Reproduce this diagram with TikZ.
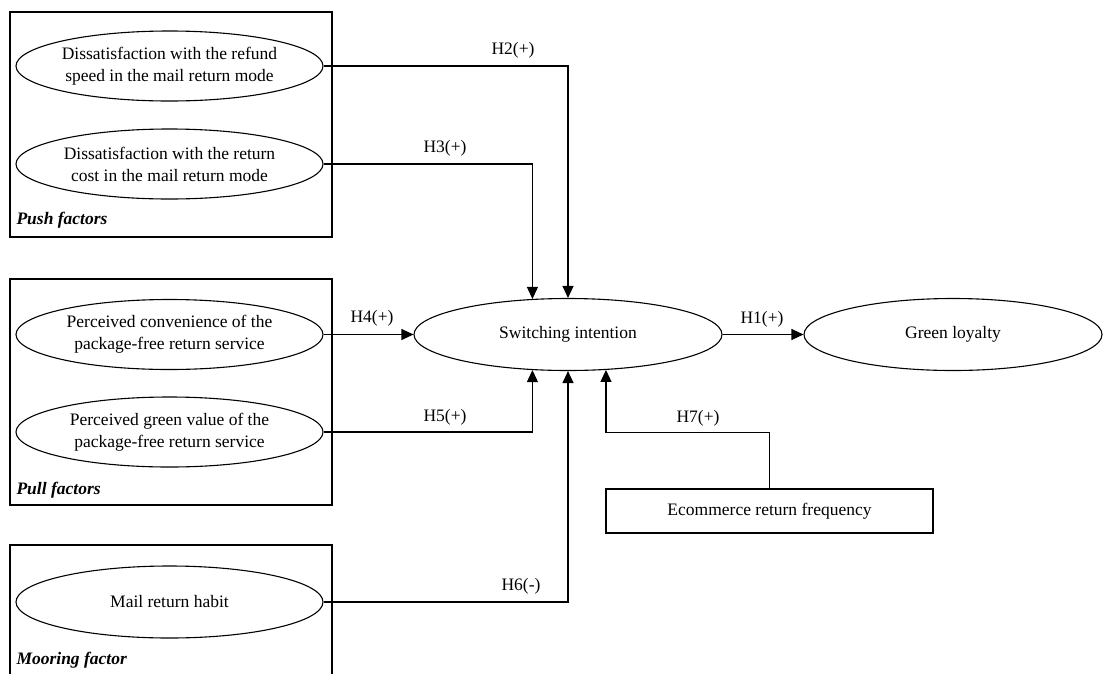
\documentclass[tikz,border=0pt]{standalone}
\usepackage{fontspec}
\setmainfont{Liberation Serif}
\usetikzlibrary{shapes.geometric,arrows.meta}

\begin{document}
\begin{tikzpicture}[x=1pt,y=-1pt,
  every node/.style={font=\fontsize{17.5}{22}\selectfont},
  oval/.style={draw, ellipse, line width=1.1pt, inner sep=0pt, align=center,
               minimum width=307pt, minimum height=70pt},
  bigoval/.style={oval, minimum height=72pt},
  groupbox/.style={draw, line width=1.1pt},
  grouplabel/.style={anchor=base west, font=\fontsize{17.5}{22}\selectfont\bfseries\itshape},
  link/.style={line width=1.1pt, -{Triangle[length=12pt,width=11pt]}},
  hyp/.style={inner sep=0pt}]
\useasboundingbox (0,0) rectangle (1103,673);

% group frames
\draw[groupbox] (10,12) rectangle (332,237);
\draw[groupbox] (10,279) rectangle (332,505);
\draw[groupbox] (10,690) -- (10,545) -- (332,545) -- (332,690);

\node[grouplabel] (lpush) at (13,224) {Push factors};
\node[grouplabel] (lpull) at (13,494) {Pull factors};
\node[grouplabel] (lmoor) at (13,664) {Mooring factor};

% constructs
\node[oval] (e1) at (169.5,66)  {Dissatisfaction with the refund\\speed in the mail return mode};
\node[oval] (e2) at (169.5,164) {Dissatisfaction with the return\\cost in the mail return mode};
\node[oval] (e3) at (169.5,334.5) {Perceived convenience of the\\package-free return service};
\node[oval] (e4) at (169.5,432) {Perceived green value of the\\package-free return service};
\node[bigoval] (e5) at (169.5,602) {Mail return habit};

\node[bigoval, minimum width=308pt] (si) at (568,334.5) {Switching intention};
\node[bigoval, minimum width=298pt] (gl) at (953,334.5) {Green loyalty};

\node[draw, line width=1.1pt, minimum width=327pt, minimum height=44pt, inner sep=0pt]
  (ef) at (769.5,511) {Ecommerce return frequency};

% hypothesised paths
\draw[link] (e1.east) -| (si.north);
\draw[link] (e2.east) -| (si.135);
\draw[link] (e3.east) -- (si.west);
\draw[link] (e4.east) -| (si.225);
\draw[link] (e5.east) -| (si.south);
\draw[link] (si.east) -- (gl.west);
\draw[link] (ef.north) -- ++(0,-56) -| (si.-43);

% path labels
\node[hyp] (h2) at (513,50)  {H2(+)};
\node[hyp] (h3) at (445,148) {H3(+)};
\node[hyp] (h4) at (372,318) {H4(+)};
\node[hyp] (h5) at (445,417) {H5(+)};
\node[hyp] (h6) at (521,586) {H6(-)};
\node[hyp] (h1) at (762,319) {H1(+)};
\node[hyp] (h7) at (698,418) {H7(+)};
\end{tikzpicture}
\end{document}
